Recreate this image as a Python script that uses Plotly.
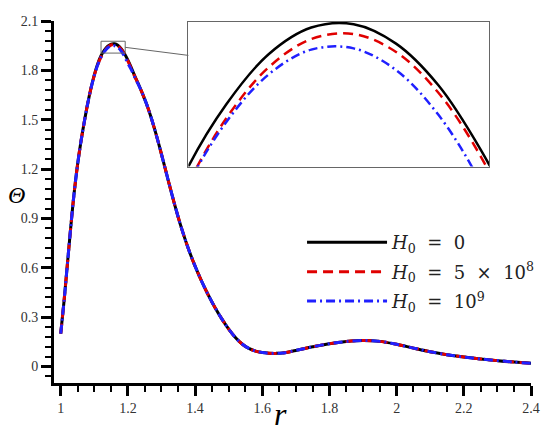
import plotly.graph_objects as go

# radial position
r = [1.00, 1.01, 1.02, 1.03, 1.04, 1.05, 1.06, 1.07, 1.08, 1.09,
     1.10, 1.11, 1.12, 1.13, 1.14, 1.15, 1.16, 1.17, 1.18, 1.19,
     1.20, 1.21, 1.22, 1.24, 1.26, 1.28, 1.30, 1.32, 1.34, 1.36,
     1.38, 1.40, 1.42, 1.44, 1.46, 1.48, 1.50, 1.52, 1.54, 1.56,
     1.58, 1.60, 1.62, 1.64, 1.66, 1.70, 1.75, 1.80, 1.85, 1.90,
     1.95, 2.00, 2.05, 2.10, 2.15, 2.20, 2.25, 2.30, 2.35, 2.40]

# shared parts of the curves
rise = [0.20, 0.40, 0.625, 0.85, 1.055, 1.225, 1.365, 1.485, 1.595, 1.69]
tail = [1.675, 1.57, 1.44, 1.29, 1.132, 0.978, 0.838,
        0.716, 0.61, 0.516, 0.432, 0.356, 0.288, 0.228, 0.177, 0.137, 0.11,
        0.094, 0.085, 0.081, 0.08, 0.082, 0.098, 0.12, 0.139, 0.152, 0.158,
        0.153, 0.135, 0.112, 0.09, 0.072, 0.058, 0.046, 0.036, 0.027, 0.02]

# r = 1.10 ... 1.22: the three cases split apart near the peak (see inset)
theta_h0 = rise + [1.772, 1.839, 1.889, 1.923, 1.947, 1.9597, 1.9613, 1.952, 1.932,
                   1.901, 1.862, 1.817, 1.768] + tail
theta_h5e8 = rise + [1.769, 1.8345, 1.881, 1.9163, 1.9407, 1.9542, 1.9566, 1.948, 1.9284,
                     1.8978, 1.856, 1.812, 1.765] + tail
theta_h1e9 = rise + [1.768, 1.832, 1.8806, 1.9145, 1.9373, 1.9491, 1.9497, 1.9393, 1.9178,
                     1.8852, 1.8416, 1.805, 1.76] + tail

sp = '\u00a0\u00a0'
names = ['<i>H</i><sub>0</sub>' + sp + '=' + sp + '0',
         '<i>H</i><sub>0</sub>' + sp + '=' + sp + '5' + sp + '×' + sp + '10<sup>8</sup>',
         '<i>H</i><sub>0</sub>' + sp + '=' + sp + '10<sup>9</sup>']
colors = ['black', '#e00000', '#2020ff']
dashes = ['solid', '10px,6px', '9px,4px,2px,4px']
series = [theta_h0, theta_h5e8, theta_h1e9]

inset_x = [1.121, 1.192]
inset_y = [1.893, 1.9625]

fig = go.Figure()
for i, (name, c, d, s) in enumerate(zip(names, colors, dashes, series)):
    fig.add_trace(go.Scatter(x=r, y=s, name=name, mode='lines', legendgroup=f'g{i}',
                             line=dict(color=c, width=3, dash=d, shape='spline')))
for name, c, d, s in zip(names, colors, dashes, series):
    fig.add_trace(go.Scatter(x=r, y=s, name=name, mode='lines', showlegend=False,
                             xaxis='x2', yaxis='y2',
                             line=dict(color=c, width=2.5, dash=d, shape='spline')))

serif = 'Liberation Serif'
axis_common = dict(showline=True, linecolor='black', linewidth=3, showgrid=False,
                   zeroline=False, ticks='outside', ticklen=10, tickwidth=3,
                   tickcolor='black', ticklabeloverflow='allow',
                   tickfont=dict(family=serif, size=14, color='#333'))
inset_common = dict(showline=True, mirror=True, linecolor='#666', linewidth=1,
                    showgrid=False, zeroline=False, showticklabels=False, ticks='')

# page body has an 8px margin, so the figure is 8px smaller than the window
fig.update_layout(
    width=542, height=425,
    margin=dict(l=46, r=19, t=6, b=50),
    paper_bgcolor='white', plot_bgcolor='white',
    xaxis=dict(range=[0.98, 2.4], dtick=0.2, tick0=1,
               minor=dict(dtick=0.05, tick0=1, ticks='outside', ticklen=6,
                          tickwidth=1.5, tickcolor='black'),
               **axis_common),
    yaxis=dict(range=[-0.1, 2.1], dtick=0.3, tick0=0,
               minor=dict(dtick=0.06, tick0=0, ticks='outside', ticklen=6,
                          tickwidth=1.5, tickcolor='black'),
               **axis_common),
    xaxis2=dict(domain=[0.2817, 0.9125], anchor='y2', range=inset_x, **inset_common),
    yaxis2=dict(domain=[0.598, 0.998], anchor='x2', range=inset_y, **inset_common),
    legend=dict(x=0.52, y=0.439, xanchor='left', yanchor='top',
                bgcolor='rgba(0,0,0,0)', itemwidth=80, tracegroupgap=3,
                font=dict(family='DejaVu Serif', size=18, color='#222')),
    showlegend=True,
)

# zoom box and connector
fig.add_shape(type='rect', xref='x', yref='y', x0=1.12, x1=1.192, y0=1.905, y1=1.977,
              line=dict(color='#666', width=1))
fig.add_shape(type='line', xref='x', yref='y', x0=1.192, y0=1.94, x1=1.38, y1=1.891,
              line=dict(color='#666', width=1))

fig.add_annotation(text='<i>r</i>', xref='paper', yref='paper', x=0.474, y=-0.086,
                   xanchor='center', yanchor='middle',
                   showarrow=False, font=dict(family=serif, size=32, color='black'))
fig.add_annotation(text='<i>Θ</i>', xref='paper', yref='paper', x=-0.078, y=0.518,
                   xanchor='center', yanchor='middle',
                   showarrow=False, font=dict(family=serif, size=24, color='black'))

fig.write_html("out.html")
